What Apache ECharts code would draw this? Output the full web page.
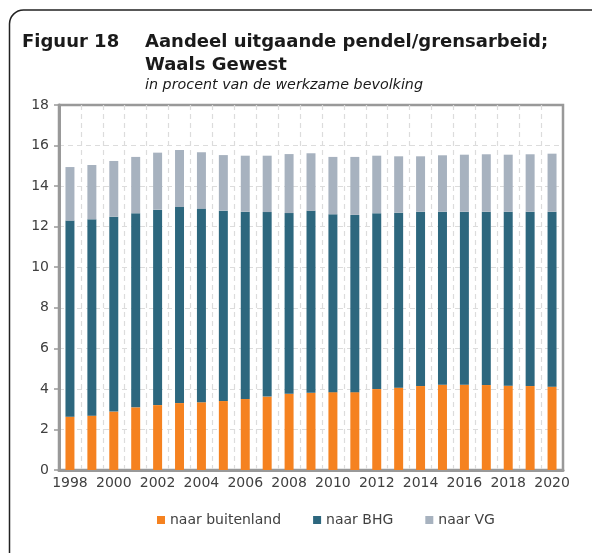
<!DOCTYPE html>
<html><head><meta charset="utf-8">
<script src="https://cdn.jsdelivr.net/npm/echarts@6/dist/echarts.min.js"></script>
<style>html,body{margin:0;padding:0;background:#fff}#c{width:592px;height:553px}</style>
</head><body><div id="c"></div>
<script>
const years = ['1998','1999','2000','2001','2002','2003','2004','2005','2006','2007','2008','2009','2010','2011','2012','2013','2014','2015','2016','2017','2018','2019','2020'];
const buitenland = [2.63,2.68,2.88,3.09,3.20,3.30,3.34,3.40,3.50,3.62,3.76,3.81,3.84,3.84,3.99,4.06,4.14,4.21,4.21,4.19,4.16,4.14,4.11];
const bhg = [9.67,9.68,9.61,9.57,9.64,9.67,9.55,9.39,9.24,9.10,8.91,8.97,8.77,8.74,8.67,8.63,8.60,8.53,8.53,8.55,8.58,8.60,8.63];
const vg = [2.64,2.68,2.75,2.78,2.81,2.81,2.78,2.74,2.76,2.78,2.91,2.84,2.83,2.86,2.84,2.78,2.73,2.78,2.81,2.83,2.81,2.83,2.86];
const seriesNames = ['naar buitenland','naar BHG','naar VG'];
const colors = ['#F58220','#2D677E','#A7B2BF'];

const chart = echarts.init(document.getElementById('c'), null, {renderer:'canvas'});
const font = '"DejaVu Sans", sans-serif';
chart.setOption({
  animation:false,
  color: colors,
  graphic: [
    {type:'rect', shape:{x:9.5, y:10, width:800, height:800, r:[14,0,0,0]}, style:{stroke:'#222', lineWidth:1.5, fill:'transparent'}, z:-10},
    {type:'text', left:22, top:33, style:{text:'Figuur 18', font:'bold 18px '+font, fill:'#1a1a1a'}},
    {type:'text', left:145, top:33, style:{text:'Aandeel uitgaande pendel/grensarbeid;', font:'bold 18px '+font, fill:'#1a1a1a'}},
    {type:'text', left:145, top:56, style:{text:'Waals Gewest', font:'bold 18px '+font, fill:'#1a1a1a'}},
    {type:'text', left:145, top:78, style:{text:'in procent van de werkzame bevolking', font:'italic 14.3px '+font, fill:'#1a1a1a'}}
  ],
  legend: {
    bottom: 21, left: 152, itemGap: 32, itemWidth: 8, itemHeight: 8, icon: 'rect',
    textStyle: {fontFamily: font, fontSize: 14, color: '#404040'},
    data: seriesNames
  },
  grid: {left:59, right:29, top:105, bottom:83, show:true, borderColor:'#999', borderWidth:2.5},
  xAxis: {
    type:'category', data: years, boundaryGap:true,
    axisLine:{lineStyle:{color:'#999', width:3}},
    axisTick:{show:false},
    axisLabel:{interval:1, fontFamily:font, fontSize:14, color:'#404040', margin:6},
    splitLine:{show:true, interval:0, showMinLine:false, showMaxLine:false, lineStyle:{color:'#dcdcdc', type:[5,4], width:1.2}}
  },
  yAxis: {
    type:'value', min:0, max:18, interval:2,
    axisLine:{show:true, lineStyle:{color:'#999', width:3}},
    axisTick:{show:true, length:5, lineStyle:{color:'#999', width:1.5}},
    axisLabel:{fontFamily:font, fontSize:14, color:'#404040', margin:10},
    splitLine:{show:true, showMinLine:false, showMaxLine:false, lineStyle:{color:'#dcdcdc', type:[5,4], width:1.2}}
  },
  series: [
    {name:seriesNames[0], type:'bar', stack:'a', data:buitenland, barWidth:'41%'},
    {name:seriesNames[1], type:'bar', stack:'a', data:bhg, barWidth:'41%'},
    {name:seriesNames[2], type:'bar', stack:'a', data:vg, barWidth:'41%'}
  ]
});
</script></body></html>
